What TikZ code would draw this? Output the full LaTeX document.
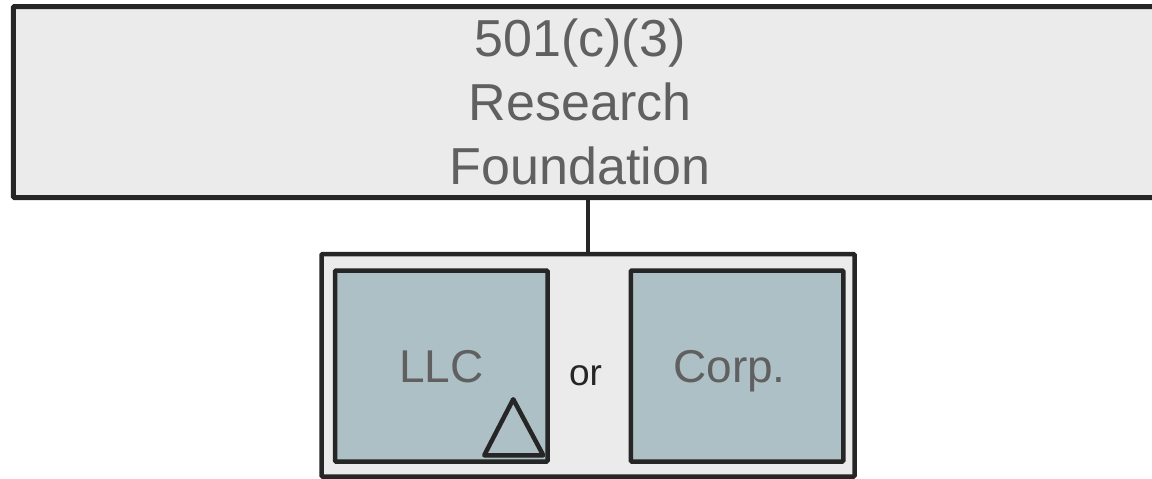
\documentclass[tikz,border=0pt]{standalone}
\usepackage{fontspec}
\setmainfont{Liberation Sans}
\definecolor{boxline}{HTML}{262626}
\definecolor{paleback}{HTML}{EBEBEB}
\definecolor{entityfill}{HTML}{ADC0C6}
\definecolor{labelgray}{HTML}{606060}

\begin{document}
\begin{tikzpicture}[
    x=1pt, y=-1pt,
    fndbox/.style={
      draw=boxline,
      fill=paleback,
      line width=5pt,
      rounded corners=1pt,
      minimum width=1156.7pt,
      minimum height=191pt,
    },
    fndtext/.style={
      inner sep=0pt,
      align=center,
      text=labelgray,
      font=\fontsize{52}{64}\selectfont,
    },
    groupbox/.style={
      draw=boxline,
      fill=paleback,
      line width=4.5pt,
      rounded corners=1pt,
      minimum width=533pt,
      minimum height=222.5pt,
    },
    entitybox/.style={
      draw=boxline,
      fill=entityfill,
      line width=4.5pt,
      rounded corners=1pt,
      minimum width=212.5pt,
      minimum height=191pt,
      text=labelgray,
      text height=33pt,
      text depth=0pt,
      font=\fontsize{46}{55}\selectfont,
    },
    ]
  \clip (0,0) rectangle (1152,479);
  \node[fndbox] (fnd) at (591.65,102) {};
  \node[fndtext] (fnd-label) at (580,102) {501(c)(3)\\Research\\Foundation};
  \node[groupbox] (grp) at (588,365.25) {};
  \begin{scope}[every node/.style={entitybox}]
    \node (llc)  at (441.25,366) {LLC};
    \node (corp) at (737,366)    {Corp.\kern15pt};
  \end{scope}
  \node[inner sep=0pt, text=boxline, font=\fontsize{37}{44}\selectfont] (or) at (585.5,376) {or};
  \draw[boxline, line width=4pt] (grp.north) -- (grp.north |- fnd.south);
  \draw[boxline, line width=4.5pt, line join=round]
    ([shift={(-36.5,-64.5)}]llc.south east)
    -- ([shift={(-65.5,-8.5)}]llc.south east)
    -- ([shift={(-6.5,-8.5)}]llc.south east)
    -- cycle;
\end{tikzpicture}
\end{document}
